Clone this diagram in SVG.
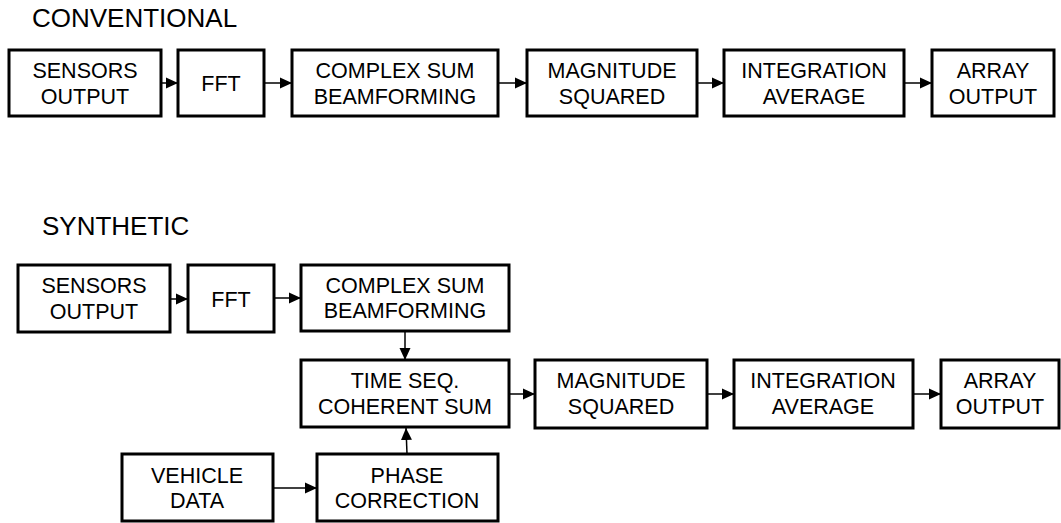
<svg xmlns="http://www.w3.org/2000/svg" width="1061" height="523" viewBox="0 0 1061 523">
<style>
.box{fill:#fff;stroke:#000;stroke-width:3}
.t{font-family:"Liberation Sans",Arial,sans-serif;font-size:21.5px;fill:#000;text-anchor:middle}
.title{font-family:"Liberation Sans",Arial,sans-serif;font-size:26px;fill:#000}
.c{stroke:#000;stroke-width:1.5;fill:none;marker-end:url(#ah)}
</style>
<defs>
<marker id="ah" markerUnits="userSpaceOnUse" markerWidth="12" markerHeight="12" viewBox="0 0 12 12" refX="12" refY="6" orient="auto">
<path d="M0,0.5 L12,6 L0,11.5 Z" fill="#000"/>
</marker>
</defs>
<rect width="1061" height="523" fill="#fff"/>
<text class="title" x="32" y="27">CONVENTIONAL</text>
<text class="title" x="42" y="235">SYNTHETIC</text>
<g id="connectors">
<line class="c" x1="161" y1="83" x2="178" y2="83"/>
<line class="c" x1="264" y1="83" x2="292" y2="83"/>
<line class="c" x1="498" y1="83" x2="527" y2="83"/>
<line class="c" x1="697" y1="83" x2="724" y2="83"/>
<line class="c" x1="904" y1="83" x2="932" y2="83"/>
<line class="c" x1="170" y1="299" x2="188" y2="299"/>
<line class="c" x1="274" y1="298" x2="301" y2="298"/>
<line class="c" x1="405" y1="331" x2="405" y2="360"/>
<line class="c" x1="407" y1="454" x2="406" y2="428"/>
<line class="c" x1="273" y1="488" x2="317" y2="488"/>
<line class="c" x1="509" y1="394" x2="535" y2="394"/>
<line class="c" x1="707" y1="394" x2="734" y2="394"/>
<line class="c" x1="913" y1="394" x2="941" y2="394"/>
</g>
<g id="c-sensors"><rect class="box" x="9" y="50" width="152" height="66"/><text class="t" x="85" y="78">SENSORS</text><text class="t" x="85" y="104">OUTPUT</text></g>
<g id="c-fft"><rect class="box" x="178" y="50" width="86" height="66"/><text class="t" x="221" y="91">FFT</text></g>
<g id="c-complex"><rect class="box" x="292" y="50" width="206" height="66"/><text class="t" x="395" y="78">COMPLEX SUM</text><text class="t" x="395" y="104">BEAMFORMING</text></g>
<g id="c-magnitude"><rect class="box" x="527" y="50" width="170" height="66"/><text class="t" x="612" y="78">MAGNITUDE</text><text class="t" x="612" y="104">SQUARED</text></g>
<g id="c-integration"><rect class="box" x="724" y="50" width="180" height="66"/><text class="t" x="814" y="78">INTEGRATION</text><text class="t" x="814" y="104">AVERAGE</text></g>
<g id="c-array"><rect class="box" x="932" y="50" width="122" height="66"/><text class="t" x="993" y="78">ARRAY</text><text class="t" x="993" y="104">OUTPUT</text></g>
<g id="s-sensors"><rect class="box" x="18" y="265" width="152" height="67"/><text class="t" x="94" y="293">SENSORS</text><text class="t" x="94" y="319">OUTPUT</text></g>
<g id="s-fft"><rect class="box" x="188" y="265" width="86" height="67"/><text class="t" x="231" y="307">FFT</text></g>
<g id="s-complex"><rect class="box" x="301" y="265" width="208" height="66"/><text class="t" x="405" y="293">COMPLEX SUM</text><text class="t" x="405" y="318">BEAMFORMING</text></g>
<g id="s-timeseq"><rect class="box" x="301" y="360" width="208" height="67"/><text class="t" x="405" y="388">TIME SEQ.</text><text class="t" x="405" y="414">COHERENT SUM</text></g>
<g id="s-magnitude"><rect class="box" x="535" y="360" width="172" height="68"/><text class="t" x="621" y="388">MAGNITUDE</text><text class="t" x="621" y="414">SQUARED</text></g>
<g id="s-integration"><rect class="box" x="734" y="360" width="179" height="68"/><text class="t" x="823" y="388">INTEGRATION</text><text class="t" x="823" y="414">AVERAGE</text></g>
<g id="s-array"><rect class="box" x="941" y="360" width="118" height="68"/><text class="t" x="1000" y="388">ARRAY</text><text class="t" x="1000" y="414">OUTPUT</text></g>
<g id="s-vehicle"><rect class="box" x="122" y="454" width="151" height="67"/><text class="t" x="197" y="483">VEHICLE</text><text class="t" x="197" y="508">DATA</text></g>
<g id="s-phase"><rect class="box" x="317" y="454" width="181" height="67"/><text class="t" x="407" y="483">PHASE</text><text class="t" x="407" y="508">CORRECTION</text></g>
</svg>
